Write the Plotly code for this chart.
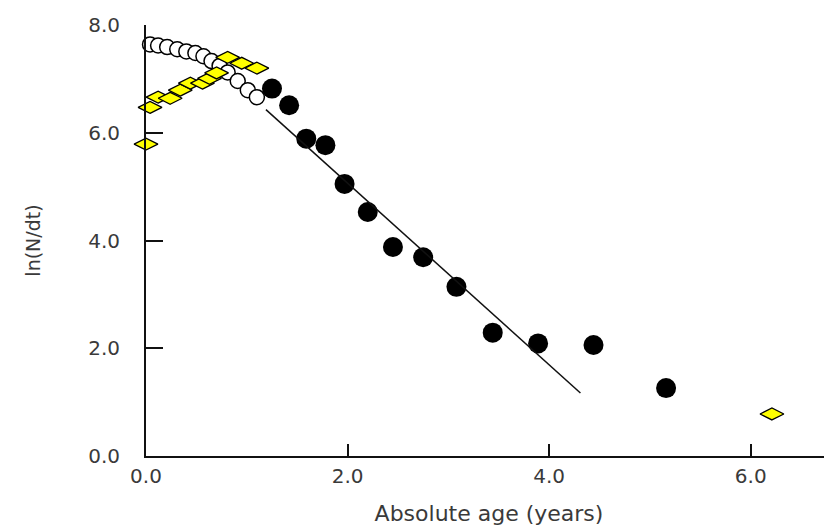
import plotly.graph_objects as go

# Open circles (white fill)
open_x = [-0.03, 0.04, 0.12, 0.21, 0.31, 0.40, 0.49, 0.57, 0.65, 0.73, 0.81, 0.91, 1.01, 1.10]
open_y = [7.68, 7.64, 7.62, 7.59, 7.55, 7.51, 7.48, 7.42, 7.33, 7.24, 7.12, 6.96, 6.79, 6.66]

# Yellow diamonds
yel_x = [0.0, 0.04, 0.12, 0.24, 0.34, 0.44, 0.56, 0.63, 0.70, 0.81, 0.95, 1.10, 6.21]
yel_y = [5.79, 6.47, 6.66, 6.64, 6.79, 6.92, 6.92, 7.01, 7.11, 7.40, 7.29, 7.20, 0.78]

# Black filled circles
blk_x = [1.25, 1.42, 1.59, 1.78, 1.97, 2.20, 2.45, 2.75, 3.08, 3.44, 3.89, 4.44, 5.16]
blk_y = [6.82, 6.51, 5.89, 5.77, 5.05, 4.53, 3.88, 3.69, 3.14, 2.29, 2.09, 2.06, 1.26]

# Regression line endpoints
fit_x = [1.19, 4.31]
fit_y = [6.43, 1.17]

x_ticks = [0, 2, 4, 6]
y_ticks = [0, 2, 4, 6, 8]

FONT = "DejaVu Sans"
TXT = "#3a3a3a"

fig = go.Figure()
fig.add_trace(go.Scatter(
    x=open_x, y=open_y, mode="markers", cliponaxis=False,
    marker=dict(symbol="circle", size=15, color="white",
                line=dict(color="black", width=1.5)),
    showlegend=False))
fig.add_trace(go.Scatter(
    x=yel_x, y=yel_y, mode="markers", cliponaxis=False,
    marker=dict(symbol="diamond-wide", size=17, color="#ffff00",
                line=dict(color="black", width=1.3)),
    showlegend=False))
fig.add_trace(go.Scatter(
    x=blk_x, y=blk_y, mode="markers", cliponaxis=False,
    marker=dict(symbol="circle", size=20, color="black",
                line=dict(color="black", width=0)),
    showlegend=False))
fig.add_trace(go.Scatter(
    x=fit_x, y=fit_y, mode="lines", cliponaxis=False,
    line=dict(color="#111111", width=1.5),
    showlegend=False))

fig.update_layout(
    width=824, height=519,
    margin=dict(l=138, r=0, t=17, b=71),
    paper_bgcolor="white", plot_bgcolor="white",
    font=dict(family=FONT, size=20, color=TXT),
    xaxis=dict(
        range=[0, 6.806], showgrid=False, zeroline=False,
        showline=True, linecolor="#111111", linewidth=2,
        ticks="inside", ticklen=12, tickwidth=2, tickcolor="#111111",
        tickvals=x_ticks, tickformat=".1f", ticklabelstandoff=1,
        tickfont=dict(family=FONT, size=20, color=TXT),
        title=dict(text="Absolute age (years)", standoff=19,
                   font=dict(family=FONT, size=22, color=TXT)),
    ),
    yaxis=dict(
        range=[0, 8], showgrid=False, zeroline=False,
        showline=True, linecolor="#111111", linewidth=2,
        ticks="inside", ticklen=17, tickwidth=2, tickcolor="#111111",
        tickvals=y_ticks, tickformat=".1f", ticklabelstandoff=20,
        tickfont=dict(family=FONT, size=20, color=TXT),
        title=dict(text="ln(N/dt)", standoff=43,
                   font=dict(family=FONT, size=19, color=TXT)),
    ),
)

fig.write_html("out.html")
